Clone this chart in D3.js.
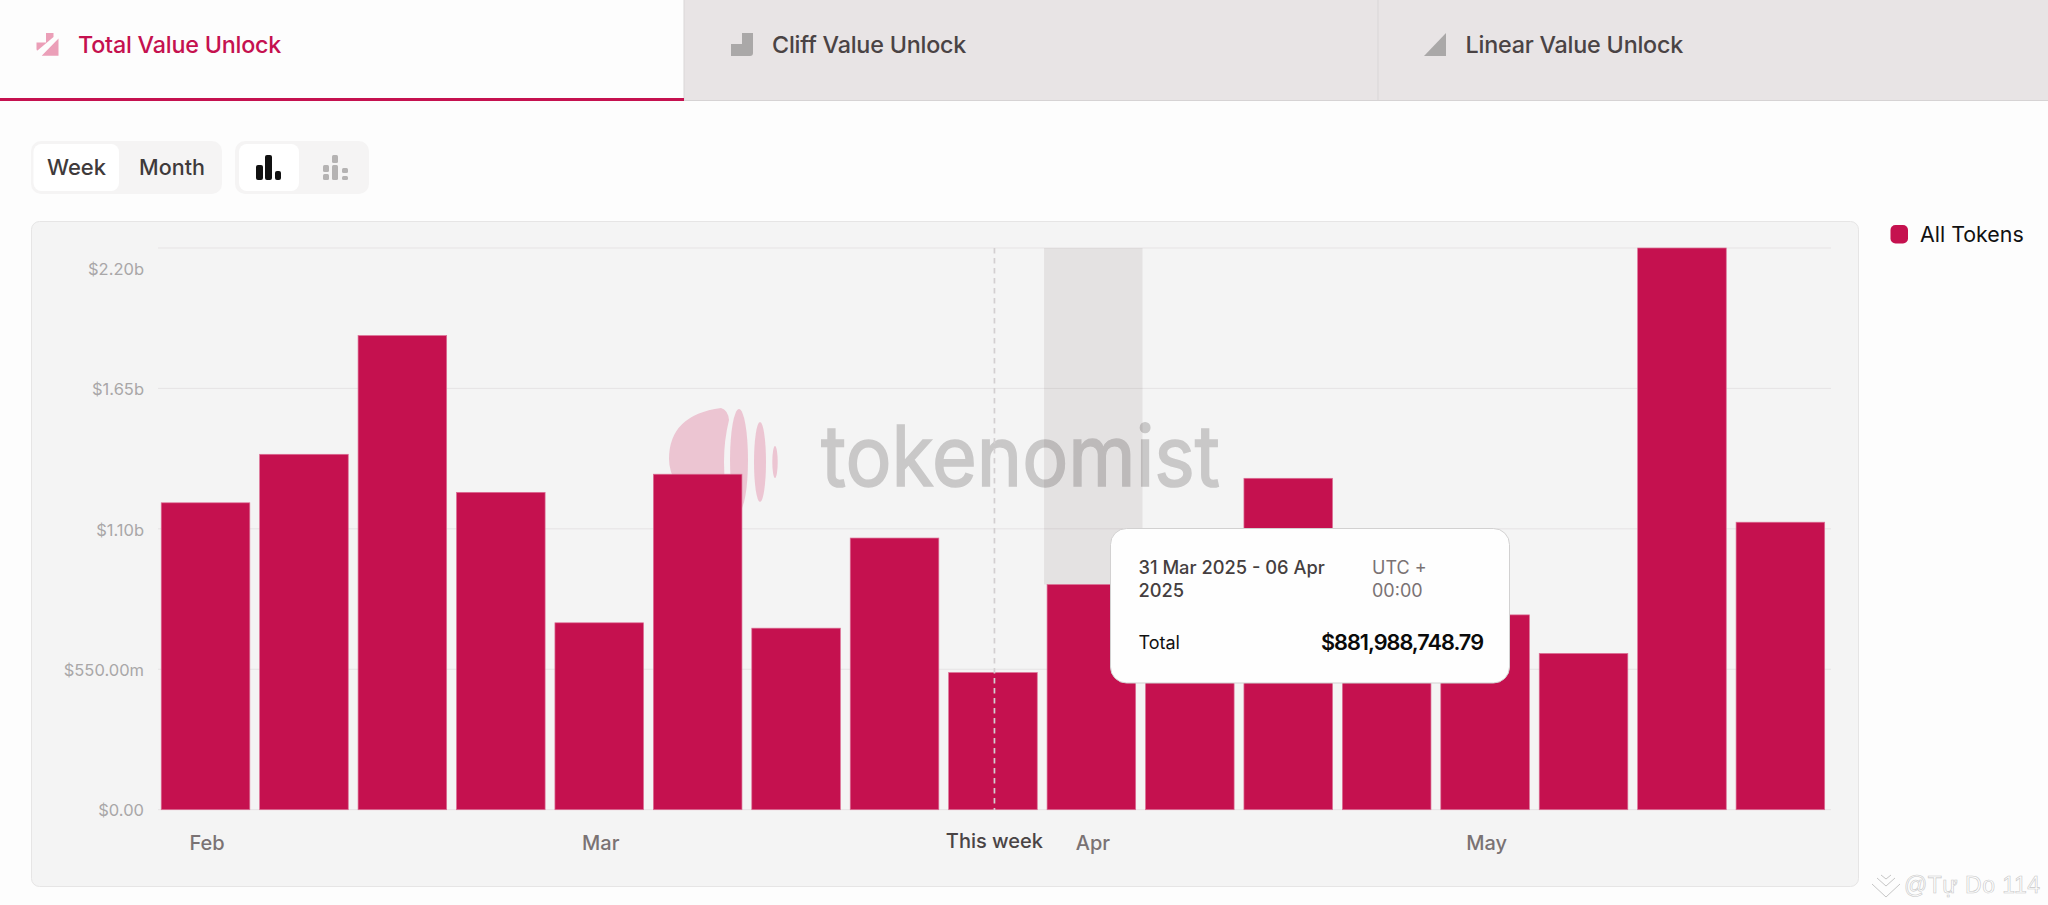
<!DOCTYPE html>
<html>
<head>
<meta charset="utf-8">
<script src="https://cdnjs.cloudflare.com/ajax/libs/d3/7.9.0/d3.min.js"></script>
<style>
html,body{margin:0;padding:0;background:#fdfdfd;overflow:hidden}
svg{display:block}
text{font-family:Inter,"Noto Sans",sans-serif}
</style>
</head>
<body>
<svg id="c" width="2048" height="905"></svg>
<script>
// ---- data ----
const weeks = ["27 Jan","03 Feb","10 Feb","17 Feb","24 Feb","03 Mar","10 Mar","17 Mar","24 Mar","31 Mar","07 Apr","14 Apr","21 Apr","28 Apr","05 May","12 May","19 May"];
const unlockValues = [1202000000,1392000000,1857000000,1243000000,732000000,1314000000,711000000,1064000000,537000000,881988748.79,620000000,1298000000,680000000,763000000,612000000,2200000000,1126000000];
const yTickValues = [0,550000000,1100000000,1650000000,2200000000];
const yTickLabels = ["$0.00","$550.00m","$1.10b","$1.65b","$2.20b"];
const monthTickWeeks = ["27 Jan","24 Feb","31 Mar","28 Apr"];
const monthTickLabels = ["Feb","Mar","Apr","May"];
const thisWeek = "24 Mar";
const hoveredWeek = "31 Mar";
const tabLabels = ["Total Value Unlock","Cliff Value Unlock","Linear Value Unlock"];
const seriesName = "All Tokens";

const RED = "#c5114f";
const svg = d3.select("#c");

// ---- tabs ----
const tabs = [[0,684],[684,1378],[1378,2048]];
const tabTextX = [78,772,1465.5];
svg.selectAll("rect.tab").data(tabs).join("rect").attr("class","tab")
  .attr("x",d=>d[0]).attr("y",0).attr("width",d=>d[1]-d[0]).attr("height",100.5)
  .attr("fill",(d,i)=>i?"#e8e4e5":"#fdfdfd");
svg.append("line").attr("x1",684).attr("x2",2048).attr("y1",100.5).attr("y2",100.5).attr("stroke","#d6d3d4");
svg.append("line").attr("x1",684).attr("x2",684).attr("y1",0).attr("y2",100).attr("stroke","#d9d6d7");
svg.append("line").attr("x1",1378).attr("x2",1378).attr("y1",0).attr("y2",100).attr("stroke","#d9d6d7");
svg.append("rect").attr("x",0).attr("y",98).attr("width",684).attr("height",3).attr("fill",RED);
svg.selectAll("text.tab").data(tabLabels).join("text").attr("class","tab")
  .attr("x",(d,i)=>tabTextX[i]).attr("y",45).attr("dy","0.35em")
  .attr("font-size",23.3).attr("font-weight",450).attr("letter-spacing",-0.2)
  .attr("fill",(d,i)=>i?"#4a4344":RED).text(d=>d);
// tab icons
svg.append("path").attr("d","M46 33 H53.5 V37 L37.5 50.5 Q36.5 50.5 36.5 49 V42.5 H46 Z M58.5 38.5 V55.7 H41.7 Z").attr("fill","#eb9fb8");
svg.append("path").attr("d","M731 44 H742 V33 H753 V53 Q753 56 750 56 H731 Z").attr("fill","#aaa8a8");
svg.append("path").attr("d","M1446 33 V56 H1424 Z").attr("fill","#aaa8a8");

// ---- controls ----
function rr(x,y,w,h,r,f){return svg.append("rect").attr("x",x).attr("y",y).attr("width",w).attr("height",h).attr("rx",r).attr("fill",f);}
rr(31,141,191,53,10,"#f5f4f4");
rr(235,141,134,53,10,"#f5f4f4");
rr(33.5,144,85.5,47,8,"#ffffff");
rr(239,144,60,47,8,"#ffffff");
svg.append("text").attr("x",76.5).attr("y",167).attr("dy","0.35em").attr("text-anchor","middle").attr("font-size",22).attr("font-weight",500).attr("fill","#3f3a3b").text("Week");
svg.append("text").attr("x",172).attr("y",167).attr("dy","0.35em").attr("text-anchor","middle").attr("font-size",21.5).attr("font-weight",500).attr("fill","#3f3a3b").text("Month");
[[256,165,7,15],[265,155,7,25],[275,171,6,9]].forEach(b=>rr(b[0],b[1],b[2],b[3],2,"#111"));
[[323,165,6,7],[323,174,6,6],[332,155,6,8],[332,165,6,15],[342,168,6,5],[342,176,6,4]].forEach(b=>rr(b[0],b[1],b[2],b[3],1.5,"#b5b3b3"));

// ---- panel ----
svg.append("rect").attr("x",31.5).attr("y",221.5).attr("width",1827).attr("height",665).attr("rx",8)
  .attr("fill","#f4f4f4").attr("stroke","#e6e5e5");

// ---- scales ----
const x = d3.scaleBand().domain(weeks).range([156.3,1829.6]).paddingInner(0.1).paddingOuter(0.05);
const y = d3.scaleLinear().domain([0,2200000000]).range([809.7,248]);

// ---- gridlines ----
svg.append("g").selectAll("line").data(yTickValues).join("line")
  .attr("x1",158).attr("x2",1831).attr("y1",d=>y(d)).attr("y2",d=>y(d))
  .attr("stroke","#e6e3e4").attr("stroke-width",1);

// ---- brand mark behind the bars ----
const mark = svg.append("g").attr("fill","#ecc5d2");
mark.append("path").attr("d","M721 408 Q728 410 729 420 Q724 440 724 462 Q724 490 730 510 L700 505 Q669 485 669 459 Q669 415 721 408 Z");
mark.append("ellipse").attr("cx",739).attr("cy",460).attr("rx",9).attr("ry",51);
mark.append("ellipse").attr("cx",760).attr("cy",462).attr("rx",6).attr("ry",40);
mark.append("ellipse").attr("cx",775).attr("cy",462).attr("rx",2.7).attr("ry",16);
svg.append("text").attr("x",821).attr("y",486).attr("font-size",84).attr("font-weight",400)
  .attr("textLength",399).attr("lengthAdjust","spacingAndGlyphs").attr("fill","#c9c8c8")
  .attr("stroke","#c9c8c8").attr("stroke-width",1.6).text("tokenomist");

// ---- hover band ----
svg.append("rect").attr("x",x(hoveredWeek)-3).attr("y",248).attr("width",x.step())
  .attr("height",y(unlockValues[weeks.indexOf(hoveredWeek)])-248).attr("fill","rgba(40,10,20,0.075)");

// ---- bars ----
svg.append("g").selectAll("rect").data(weeks).join("rect")
  .attr("x",d=>x(d)).attr("width",x.bandwidth())
  .attr("y",(d,i)=>y(unlockValues[i])).attr("height",(d,i)=>y(0)-y(unlockValues[i]))
  .attr("fill",RED).attr("stroke","#dc6f95").attr("stroke-width",0.7);

// ---- this week marker ----
const twx = x(thisWeek)+x.bandwidth()/2+1.5;
svg.append("line").attr("x1",twx).attr("x2",twx).attr("y1",248).attr("y2",810)
  .attr("stroke","#d3cfd1").attr("stroke-width",1.7).attr("stroke-dasharray","5.5 4.5");

// ---- axes ----
const yAxis = d3.axisLeft(y).tickValues(yTickValues).tickSize(0).tickPadding(0)
  .tickFormat((d,i)=>yTickLabels[i]);
const gy = svg.append("g").attr("transform","translate(144,0)").call(yAxis);
gy.select(".domain").remove();
gy.selectAll("text").attr("font-size",16.5).attr("fill","#a9a7a8").style("font-family","Inter")
  .attr("dy",d=>d===2200000000?"1.6em":"0.38em");

const xAxis = d3.axisBottom(x).tickValues(monthTickWeeks).tickSize(0).tickPadding(0)
  .tickFormat((d,i)=>monthTickLabels[i]);
const gx = svg.append("g").attr("transform","translate(1.5,843)").call(xAxis);
gx.select(".domain").remove();
gx.selectAll("text").attr("font-size",20).attr("font-weight",500).attr("fill","#7a7273").style("font-family","Inter")
  .attr("dy","0.35em");
svg.append("text").attr("x",twx).attr("y",841).attr("dy","0.35em").attr("text-anchor","middle")
  .attr("font-size",20).attr("font-weight",550).attr("fill","#4a4445").text("This week");

// ---- legend ----
rr(1890.5,225,17.5,18.5,5,RED);
svg.append("text").attr("x",1920).attr("y",234.5).attr("dy","0.35em").attr("font-size",21.4).attr("fill","#111").text(seriesName);

// ---- tooltip ----
svg.append("rect").attr("x",1110.5).attr("y",528.5).attr("width",399).attr("height",154.5).attr("rx",16)
  .attr("fill","#fefefe").attr("stroke","#d2d1d1");
const tt = [
 [1138.5,567.7,"31 Mar 2025 - 06 Apr",18.3,500,"#453f40"],
 [1138.5,590.5,"2025",18.3,500,"#453f40"],
 [1372,567.7,"UTC +",18,400,"#7a7273"],
 [1372,590.5,"00:00",18,400,"#7a7273"],
 [1138.5,642.7,"Total",18,400,"#111"]];
tt.forEach(t=>svg.append("text").attr("x",t[0]).attr("y",t[1]).attr("dy","0.35em").attr("font-size",t[3]).attr("font-weight",t[4]).attr("fill",t[5]).text(t[2]));
svg.append("text").attr("x",1483).attr("y",642.7).attr("dy","0.35em").attr("text-anchor","end").attr("font-size",21.7).attr("font-weight",600).attr("letter-spacing",-1).attr("fill","#0a0a0a")
  .text("$"+d3.format(",.2f")(unlockValues[weeks.indexOf(hoveredWeek)]));

// ---- credit ----
svg.append("path").attr("d","M1872 884 L1886 897 L1900 884 M1877 878 L1886 886 L1895 878 M1881 875 L1886 879 L1891 875").attr("fill","none").attr("stroke","#c6c6c6").attr("stroke-width",1);
svg.append("text").attr("x",1904).attr("y",893).attr("font-size",23).style("font-family","Liberation Sans")
  .attr("textLength",136).attr("lengthAdjust","spacing").attr("fill","#ffffff").attr("stroke","#c8c8c8").attr("stroke-width",0.6).text("@Tự Do 114");
</script>
</body>
</html>
